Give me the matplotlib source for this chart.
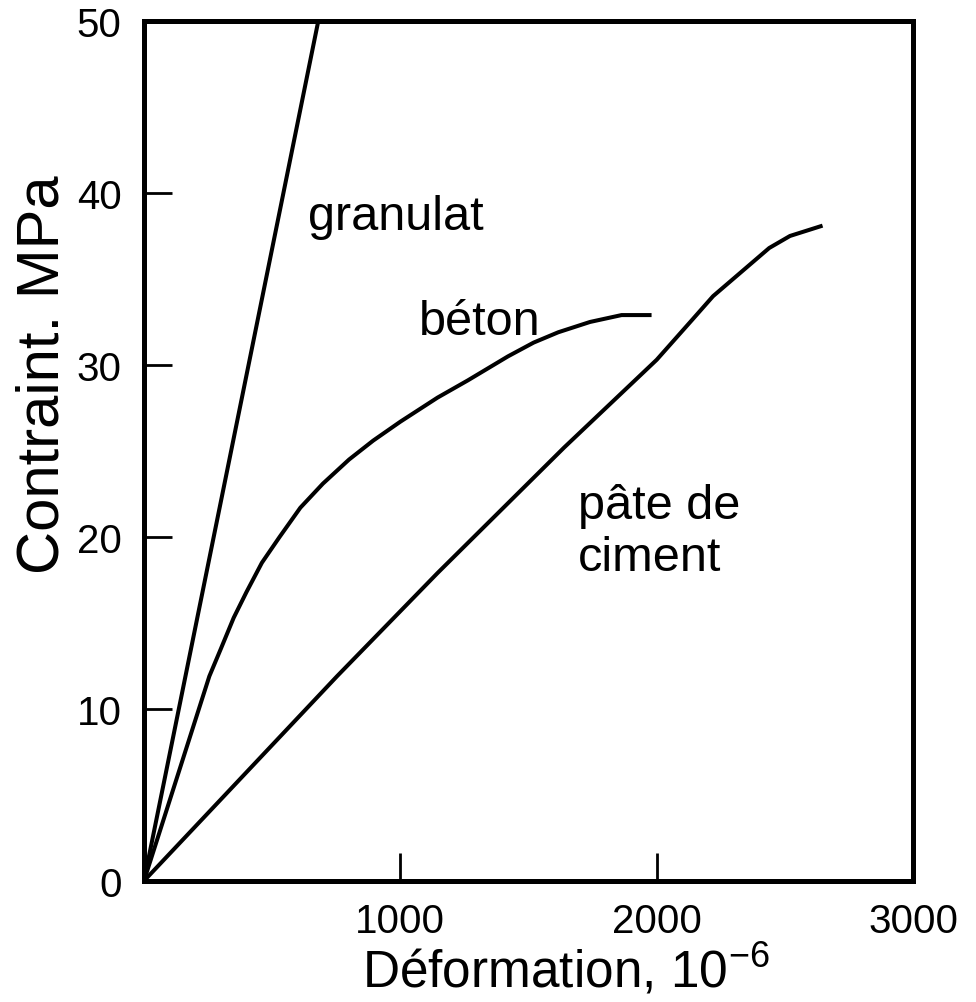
#Stress-strain curves of aggregate, concrete and cement paste
import matplotlib.pyplot as plt

plt.rcParams['font.family'] = ['Liberation Sans', 'DejaVu Sans']
plt.rcParams['mathtext.fontset'] = 'custom'
plt.rcParams['mathtext.rm'] = 'Liberation Sans'

# Data (strain in 10^-6, stress in MPa)
granulat_x = [0, 680]
granulat_y = [0, 50]

beton_x = [0, 255, 300, 350, 400, 460, 529, 610, 698, 800, 894, 1000, 1145,
           1263, 1420, 1520, 1616, 1740, 1863, 1980]
beton_y = [0, 11.9, 13.5, 15.3, 16.8, 18.5, 20.0, 21.7, 23.1, 24.5, 25.6, 26.7,
           28.1, 29.1, 30.5, 31.3, 31.9, 32.5, 32.9, 32.9]

pate_x = [0, 753, 1145, 1639, 2000, 2137, 2220, 2439, 2520, 2647]
pate_y = [0, 11.9, 17.9, 25.2, 30.3, 32.6, 34.0, 36.8, 37.5, 38.1]

x_ticks = [1000, 2000, 3000]
y_ticks = [0, 10, 20, 30, 40, 50]

fig = plt.figure(figsize=(9.76, 10.03), dpi=100)
ax = fig.add_axes([0.1475, 0.1207, 0.788, 0.8574])

# Plot the curves
ax.plot(granulat_x, granulat_y, color='black', lw=2.9, solid_capstyle='butt')
ax.plot(beton_x, beton_y, color='black', lw=2.9, solid_capstyle='butt',
        solid_joinstyle='round')
ax.plot(pate_x, pate_y, color='black', lw=2.9, solid_capstyle='butt',
        solid_joinstyle='round')

# Curve labels
ax.text(639, 37.9, "granulat", fontsize=35, va='baseline')
ax.text(1071, 31.8, "béton", fontsize=35, va='baseline')
ax.text(1694, 18.1, "pâte de\nciment", fontsize=35, va='baseline', linespacing=1.2)

# Axes
ax.set_xlim(0, 3000)
ax.set_ylim(0, 50)
ax.set_xticks(x_ticks)
ax.set_yticks(y_ticks)
ax.tick_params(direction='in', length=20, width=2, labelsize=29)
ax.tick_params(axis='x', pad=15)
ax.tick_params(axis='y', pad=16)
for s in ax.spines.values():
    s.set_linewidth(3.6)

ax.set_xlabel(r"Déformation, 10$^{\mathrm{-6}}$", fontsize=37)
ax.set_ylabel("Contraint. MPa", fontsize=43)
ax.xaxis.set_label_coords(0.548, -0.071)
ax.yaxis.set_label_coords(-0.095, 0.59)

plt.savefig("out.png", dpi=100)
